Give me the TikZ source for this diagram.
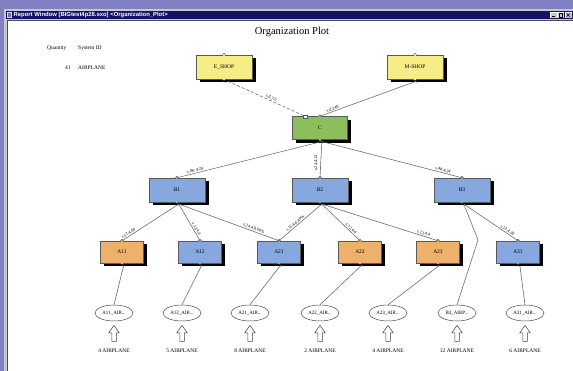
\documentclass[tikz,border=0pt]{standalone}
\usepackage{fontspec}
\setmainfont{Liberation Serif}
\newfontfamily\uisans{Liberation Sans}
\usetikzlibrary{shapes.geometric,shapes.arrows,shadows}

\definecolor{deskpurple}{RGB}{128,128,194}
\definecolor{titlenavy}{RGB}{18,18,104}
\definecolor{framegray}{RGB}{200,200,200}
\definecolor{shopyellow}{RGB}{246,238,132}
\definecolor{hubgreen}{RGB}{140,190,92}
\definecolor{unitblue}{RGB}{134,168,222}
\definecolor{partorange}{RGB}{238,176,106}
\definecolor{edgegray}{RGB}{110,110,110}

\begin{document}
\begin{tikzpicture}[x=1pt,y=-1pt,
  orgbox/.style={draw=gray!70!black, line width=0.5pt, inner sep=0pt,
    minimum width=56pt, minimum height=24pt,
    font=\fontsize{5.5}{6}\selectfont,
    drop shadow={shadow xshift=3.5pt, shadow yshift=-3.5pt, fill=black, opacity=1}},
  partbox/.style={orgbox, minimum width=43pt, minimum height=22pt},
  stock/.style={ellipse, draw=gray!60!black, line width=0.5pt, inner sep=0pt,
    minimum width=38pt, minimum height=16pt, font=\fontsize{5}{6}\selectfont},
  uparrow/.style={single arrow, draw=gray!50!black, line width=0.5pt, fill=white,
    shape border rotate=90, inner sep=2pt, minimum height=16pt,
    single arrow head extend=3pt, single arrow tip angle=70},
  qty/.style={font=\fontsize{5.5}{6}\selectfont},
  edge/.style={draw=edgegray, line width=0.6pt},
  elab/.style={sloped, above, inner sep=0.5pt, font=\fontsize{4.3}{4.5}\selectfont},
  small/.style={font=\fontsize{5.5}{6}\selectfont, inner sep=0pt, anchor=west}
]
\useasboundingbox (0,0) rectangle (573,371);

% window frame, title bar and client area
\fill[deskpurple] (0,0) rectangle (573,371);
\fill[framegray] (4,9) rectangle (573,371);
\fill[titlenavy] (6,11) rectangle (573,19);
\fill[white] (8,21) rectangle (573,371);
\draw[gray!60!black, line width=0.5pt] (7.5,20.5) -- (7.5,371);
\draw[gray!60!black, line width=0.5pt] (7.5,20.5) -- (573,20.5);
\fill[white!85!blue] (7,12) rectangle (12,18);
\fill[titlenavy!60] (8,13) rectangle (11,17);
\node[font=\uisans\bfseries\fontsize{5.9}{6}\selectfont, text=white, anchor=west, inner sep=0pt]
  (wintitle) at (13.5,15) {Report Window [BIGtest4p28.sxo] <Organization\_Plot>};
\foreach \bx in {550,557.5,565}{
  \fill[framegray] (\bx,12) rectangle ++(6.5,6);
  \draw[white, line width=0.3pt] (\bx,18) |- ++(6.5,-6);
}
\draw[black, line width=0.6pt] (551.5,16.8) -- (554.5,16.8);
\draw[black, line width=0.4pt] (559,13.3) rectangle (562.5,16.8);
\draw[black, line width=0.6pt] (566.5,13.3) -- (570,16.8) (566.5,16.8) -- (570,13.3);

% headings
\node[font=\fontsize{10.5}{12}\selectfont, inner sep=0pt] (plottitle) at (292,32) {Organization Plot};
\node[small] (hqty) at (47,48) {Quantity};
\node[small] (hsys) at (78,48) {System ID};
\node[small] (hnum) at (65,68) {41};
\node[small] (hname) at (78,68) {AIRPLANE};

% organisation boxes
\node[orgbox, fill=shopyellow] (eshop) at (224,67) {E\_SHOP};
\node[orgbox, fill=shopyellow] (mshop) at (415,67) {M-SHOP};
\node[orgbox, fill=hubgreen, minimum width=55pt, minimum height=23pt] (C) at (320,128) {C};
\node[orgbox, fill=unitblue] (B1) at (177,190) {B1};
\node[orgbox, fill=unitblue] (B2) at (320,190) {B2};
\node[orgbox, fill=unitblue] (B3) at (462,190) {B3};
\node[partbox, fill=partorange] (A11) at (122,252) {A11};
\node[partbox, fill=unitblue] (A12) at (200,252) {A12};
\node[partbox, fill=unitblue] (A21) at (279,252) {A21};
\node[partbox, fill=partorange] (A22) at (360,252) {A22};
\node[partbox, fill=partorange] (A23) at (438,252) {A23};
\node[partbox, fill=unitblue] (A31) at (518,252) {A31};

% connection bumps on top and bottom of each box
\foreach \n/\c in {eshop/shopyellow,mshop/shopyellow,C/hubgreen,B1/unitblue,B2/unitblue,B3/unitblue,
                   A11/partorange,A12/unitblue,A21/unitblue,A22/partorange,A23/partorange,A31/unitblue}{
  \fill[\c] (\n.north) circle (1.6pt);
  \draw[gray!70!black, line width=0.4pt] ([xshift=-1.6pt]\n.north) arc (180:0:1.6pt);
  \fill[\c] (\n.south) circle (1.4pt);
  \fill[black] ([xshift=1.8pt,yshift=-1.8pt]\n.south) circle (1.5pt);
}

% stock ellipses
\node[stock] (sA11) at (114,313) {A11\_AIR...};
\node[stock] (sA12) at (182,313) {A12\_AIR...};
\node[stock] (sA21) at (250,313) {A21\_AIR...};
\node[stock] (sA22) at (320,313) {A22\_AIR...};
\node[stock] (sA23) at (388,313) {A23\_AIR...};
\node[stock] (sB3)  at (457,313) {B3\_AIRP...};
\node[stock] (sA31) at (525,313) {A31\_AIR...};

% supply arrows and quantities
\foreach \s/\q in {A11/4,A12/5,A21/8,A22/2,A23/4,B3/12,A31/6}{
  \node[uparrow] (ar\s) at ([yshift=-22pt]s\s.center) {};
  \node[qty] (q\s) at ([yshift=-38pt]s\s.center) {\q\ AIRPLANE};
}

% shop links
\coordinate (cleft) at ([xshift=-15pt]C.north);
\draw[edge, dash pattern=on 3pt off 2pt] ([xshift=4pt,yshift=-2pt]eshop.south) -- node[elab, pos=0.55]{s,d,7/5} (cleft);
\draw[gray!70!black, fill=white, line width=0.4pt] ([xshift=-2pt,yshift=-2pt]cleft) rectangle ([xshift=2pt,yshift=1pt]cleft);
\draw[edge] ([xshift=1.8pt,yshift=-1.8pt]mshop.south) -- node[elab, pos=0.86]{s,d,148} (C.north);

% hub to units
\coordinate (Cout) at ([xshift=1.8pt,yshift=-1.8pt]C.south);
\draw[edge] (Cout) -- node[elab, pos=0.87]{s,48, 4,24} (B1.north);
\draw[edge] (Cout) -- (B2.north);
\node[rotate=90, inner sep=0.5pt, font=\fontsize{4.3}{4.5}\selectfont] (lC2) at (316,163) {s,24,4,12};
\draw[edge] (Cout) -- node[elab, pos=0.86]{s,48,4,24} (B3.north);

% units to parts
\coordinate (B1out) at ([xshift=1.8pt,yshift=-1.8pt]B1.south);
\coordinate (B2out) at ([xshift=1.8pt,yshift=-1.8pt]B2.south);
\coordinate (B3out) at ([xshift=1.8pt,yshift=-1.8pt]B3.south);
\draw[edge] (B1out) -- node[elab, pos=0.86]{s,12,4,60} (A11.north);
\draw[edge] (B1out) -- node[elab, pos=0.72]{s,12,4,4} (A12.north);
\draw[edge] (B1out) -- node[elab, pos=0.74]{s,24,4,8,60\%} (A21.north);
\draw[edge] (B2out) -- node[elab, pos=0.58]{s,15,4,6,40\%} (A21.north);
\draw[edge] (B2out) -- node[elab, pos=0.72]{s,12,4,4} (A22.north);
\draw[edge] (B2out) -- node[elab, pos=0.87]{s,12,4,4} (A23.north);
\draw[edge] (B3out) -- node[elab, pos=0.78]{s,12,4,30} (A31.north);
\coordinate (bend) at (478,240);
\draw[edge] (B3out) -- (bend) -- (sB3.north);

% parts to stock
\foreach \p in {A11,A12,A21,A22,A23,A31}{
  \draw[edge] ([xshift=1.8pt,yshift=-1.8pt]\p.south) -- (s\p.north);
}
\end{tikzpicture}
\end{document}
